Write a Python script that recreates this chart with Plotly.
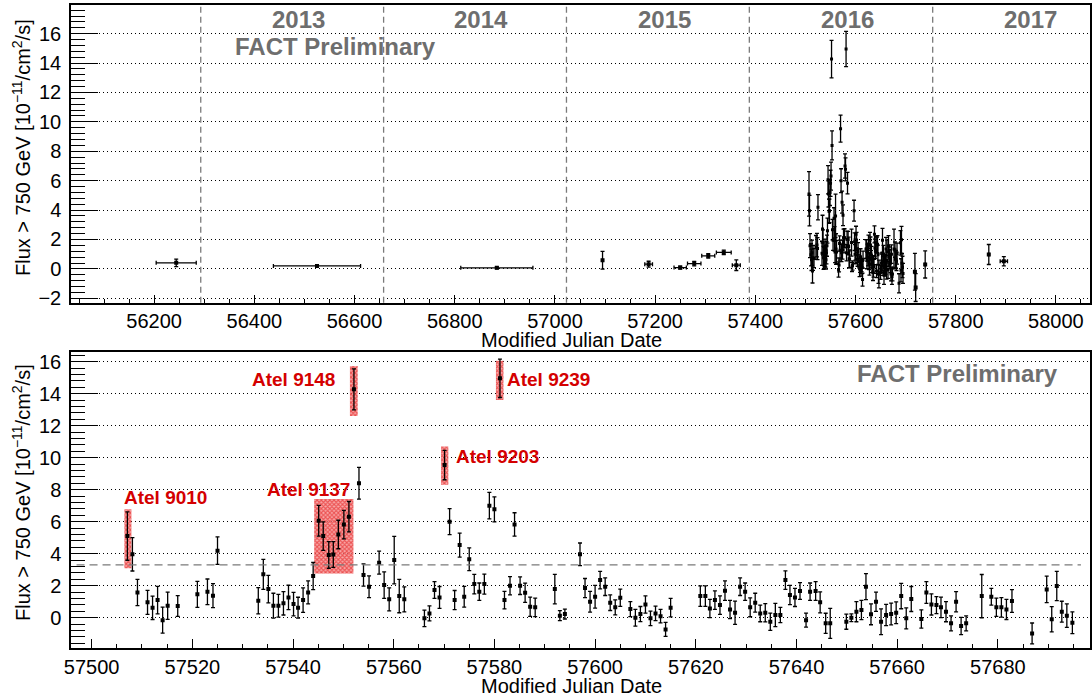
import plotly.graph_objects as go

# ---------------- data ----------------
# nightly 2016 light curve (MJD, flux [1e-11 /cm2/s], error)
night_mjd = [57507.1, 57508.1, 57509.1, 57511.1, 57512.1, 57513.1, 57514.1, 57515.1, 57517.1,
             57521.0, 57523.0, 57524.1, 57525.0, 57533.1, 57534.1, 57535.1, 57536.1, 57537.1,
             57538.1, 57539.1, 57540.1, 57541.0, 57542.0, 57543.0, 57544.0, 57545.1, 57546.0,
             57547.1, 57548.0, 57549.0, 57550.1, 57551.1, 57552.1, 57553.1, 57554.0, 57555.1,
             57557.1, 57558.1, 57559.1, 57560.1, 57561.1, 57562.1, 57566.1, 57567.1, 57568.1,
             57569.1, 57570.1, 57571.1, 57572.1, 57573.1, 57574.0, 57575.0, 57576.0, 57577.0,
             57578.0, 57579.0, 57580.0, 57581.1, 57582.0, 57583.1, 57584.0, 57585.1, 57586.1,
             57587.1, 57588.1, 57592.0, 57593.0, 57594.0, 57597.0, 57598.0, 57599.0, 57600.0,
             57601.0, 57602.0, 57603.0, 57604.0, 57605.0, 57607.0, 57608.0, 57609.0, 57610.0,
             57611.0, 57612.0, 57613.0, 57614.0, 57615.0, 57620.9, 57621.9, 57622.8, 57623.8,
             57624.8, 57625.8, 57626.8, 57627.8, 57628.8, 57629.8, 57630.8, 57631.8, 57632.8,
             57633.8, 57634.8, 57635.8, 57636.8, 57637.8, 57638.7, 57639.7, 57640.7, 57641.9,
             57642.7, 57643.8, 57644.7, 57645.8, 57646.7, 57649.9, 57650.9, 57651.9, 57652.9,
             57653.8, 57654.8, 57655.8, 57656.8, 57657.8, 57658.8, 57659.8, 57660.8, 57661.8,
             57662.8, 57664.8, 57665.8, 57666.8, 57667.8, 57668.7, 57669.7, 57670.7, 57671.7,
             57672.7, 57673.7, 57676.8, 57678.7, 57679.7, 57680.7, 57681.7, 57682.8, 57686.8,
             57689.7, 57690.7, 57691.7, 57692.7, 57693.7, 57694.8]
night_flux = [5.10, 3.96, 1.58, 0.96, 0.62, 1.10, -0.15, 0.75, 0.73,
              1.46, 1.62, 1.38, 4.19, 1.06, 2.71, 1.79, 0.75, 0.75,
              0.90, 1.27, 0.85, 0.63, 1.10, 1.58, 2.60, 6.06, 5.10,
              3.92, 3.95, 5.20, 5.82, 6.31, 14.27, 8.40, 2.67, 1.94,
              3.44, 2.04, 1.15, 3.60, 1.35, 1.15, -0.04, 0.27, 1.73,
              1.27, 9.54, 6.00, 1.10, 4.54, 1.31, 3.65, 2.10, 1.63,
              2.10, 7.00, 6.77, 14.96, 1.10, 2.00, 5.83, 2.00, 1.56,
              0.69, 0.65, 1.79, 0.13, 0.23, 3.96, 1.85, 1.00, 1.31,
              2.35, 1.94, 0.94, 0.65, 1.25, 0.54, 0.00, 0.23, 0.83,
              -0.04, 0.27, 0.10, -0.73, 0.63, 1.35, 1.35, 0.58, 1.10,
              0.79, 1.69, 0.52, 0.31, 1.94, 1.63, 0.65, 0.94, 0.27,
              0.31, -0.25, 0.17, 0.17, 2.35, 1.42, 1.27, 1.67, -0.15,
              1.63, 1.67, 0.96, -0.35, -0.35, -0.25, 0.00, 0.38, 0.48,
              1.94, 0.21, 1.00, -0.25, 0.17, 0.23, 0.31, 1.35, -0.04,
              1.17, -0.08, 1.58, 0.83, 0.79, 0.65, 0.38, -0.35, 1.00,
              -0.52, -0.35, 1.35, 1.31, 0.65, 0.65, 0.52, 1.04, -0.98,
              1.77, -0.10, 1.98, 0.38, 0.13, -0.31]
night_err = [1.51, 1.04, 0.82, 0.75, 0.73, 0.86, 0.81, 0.85, 0.65,
             0.81, 0.80, 0.75, 0.86, 0.82, 0.94, 0.86, 0.78, 0.71,
             0.73, 0.76, 0.73, 0.65, 0.76, 0.72, 0.85, 0.96, 0.89,
             0.83, 0.80, 0.89, 0.89, 0.95, 1.28, 0.99, 0.70, 0.68,
             0.72, 0.83, 0.72, 1.48, 1.04, 0.78, 0.52, 0.47, 0.52,
             0.68, 0.92, 0.81, 0.60, 0.75, 0.65, 0.71, 0.61, 0.54,
             0.63, 0.83, 0.78, 1.20, 0.55, 0.57, 0.73, 0.55, 0.60,
             0.60, 0.58, 0.92, 0.31, 0.31, 0.71, 0.60, 0.65, 0.71,
             0.55, 0.55, 0.49, 0.47, 0.54, 0.47, 0.52, 0.47, 0.54,
             0.45, 0.45, 0.42, 0.44, 0.58, 0.64, 0.64, 0.57, 0.58,
             0.58, 0.61, 0.57, 0.73, 0.55, 0.54, 0.59, 0.59, 0.52,
             0.57, 0.54, 0.73, 0.48, 0.58, 0.60, 0.57, 0.52, 0.44,
             0.54, 0.59, 0.66, 0.63, 0.94, 0.47, 0.24, 0.63, 0.60,
             0.81, 0.65, 0.60, 0.80, 0.66, 0.68, 0.68, 0.79, 0.66,
             0.78, 0.57, 0.68, 0.66, 0.53, 0.64, 0.63, 0.47, 0.63,
             0.54, 0.47, 1.35, 0.52, 0.57, 0.61, 0.63, 0.71, 0.65,
             0.83, 0.79, 0.91, 0.65, 0.73, 0.68]

# other seasons / binned points in the overview (MJD, half-width, flux, error)
bin_mjd = [56244, 56525, 56884, 57095, 57187, 57250, 57278, 57306, 57337, 57362,
           57718.5, 57720, 57739, 57866, 57896]
bin_xerr = [40, 87, 72, 0, 7.7, 12.3, 13.4, 13, 14.8, 8,
            0, 0, 0, 0, 7.3]
bin_flux = [0.41, 0.20, 0.07, 0.59, 0.32, 0.09, 0.36, 0.89, 1.12, 0.25,
            -0.20, -1.27, 0.30, 0.98, 0.52]
bin_err = [0.25, 0.08, 0.06, 0.60, 0.20, 0.10, 0.15, 0.15, 0.15, 0.36,
           1.25, 0.95, 0.92, 0.68, 0.32]

# years
year_names = ["2013", "2014", "2015", "2016", "2017"]
year_start_mjd = [56293, 56658, 57023, 57388, 57754]

# ATel alerts: time window and flux window
atel_names = ["Atel 9010", "Atel 9137", "Atel 9148", "Atel 9203", "Atel 9239"]
atel_t0 = [57506.5, 57544.2, 57551.3, 57569.4, 57580.3]
atel_t1 = [57507.9, 57552.0, 57552.85, 57570.85, 57581.8]
atel_f0 = [3.09, 2.77, 12.6, 8.3, 13.6]
atel_f1 = [6.78, 7.42, 15.73, 10.7, 16.06]

threshold = 3.3  # dashed reference level in the zoom panel

# ---------------- styling ----------------
FONT = "Liberation Sans, Arial, Helvetica, sans-serif"
RED = "#d40000"
GREY = "#6e6e6e"
W, H = 1092, 697
px_x = lambda p: p / W
px_y = lambda p: 1 - p / H

fig = go.Figure()

# ATel boxes (bottom panel)
for n, t0, t1, f0, f1 in zip(atel_names, atel_t0, atel_t1, atel_f0, atel_f1):
    fig.add_trace(go.Scatter(
        x=[t0, t1, t1, t0, t0], y=[f0, f0, f1, f1, f0],
        xaxis="x2", yaxis="y2", mode="lines", line=dict(width=0),
        fill="toself", fillcolor="rgba(245,140,140,0.75)",
        fillpattern=dict(shape="x", fgcolor="#e00000", size=3, solidity=0.6),
        hoverinfo="skip", showlegend=False))

err_style = dict(type="data", color="black", thickness=1.3, width=2)

# top: binned points
fig.add_trace(go.Scatter(
    x=bin_mjd, y=bin_flux, mode="markers", xaxis="x", yaxis="y",
    marker=dict(symbol="square", size=4, color="black"),
    error_y=dict(array=bin_err, **err_style),
    error_x=dict(array=bin_xerr, **err_style),
    showlegend=False))
# top: nightly points
fig.add_trace(go.Scatter(
    x=night_mjd, y=night_flux, mode="markers", xaxis="x", yaxis="y",
    marker=dict(symbol="square", size=3, color="black"),
    error_y=dict(array=night_err, **err_style),
    showlegend=False))
# bottom: nightly points
fig.add_trace(go.Scatter(
    x=night_mjd, y=night_flux, mode="markers", xaxis="x2", yaxis="y2",
    marker=dict(symbol="square", size=4, color="black"),
    error_y=dict(array=night_err, **err_style),
    showlegend=False))

shapes = []
for ys in year_start_mjd:
    shapes.append(dict(type="line", xref="x", yref="y domain", x0=ys, x1=ys, y0=0, y1=1,
                       line=dict(color="#7a7a7a", width=1.3, dash="6px,4px")))
shapes.append(dict(type="line", xref="x2", yref="y2", x0=57497, x1=57696.5,
                   y0=threshold, y1=threshold,
                   line=dict(color="#7a7a7a", width=1.3, dash="8px,5px")))

C = dict(xanchor="center", yanchor="middle", showarrow=False)
annotations = []
for name, ys in zip(year_names, year_start_mjd):
    annotations.append(dict(C, x=ys + 195, y=px_y(20), xref="x", yref="paper",
                            text="<b>%s</b>" % name,
                            font=dict(family=FONT, size=24, color=GREY)))
annotations.append(dict(C, x=px_x(335), y=px_y(47), xref="paper", yref="paper",
                        text="<b>FACT Preliminary</b>",
                        font=dict(family=FONT, size=24, color=GREY)))
annotations.append(dict(C, x=px_x(957), y=px_y(373), xref="paper", yref="paper",
                        text="<b>FACT Preliminary</b>",
                        font=dict(family=FONT, size=24, color=GREY)))
# ATel labels
atel_lab = [(57506.0, 7.48, "left"), (57551.7, 7.98, "right"), (57548.8, 14.86, "right"),
            (57572.0, 10.06, "left"), (57582.2, 14.86, "left")]
for n, (lx, ly, anc) in zip(atel_names, atel_lab):
    annotations.append(dict(x=lx, y=ly, xref="x2", yref="y2", text="<b>%s</b>" % n,
                            showarrow=False, xanchor=anc, yanchor="middle",
                            font=dict(family=FONT, size=19, color=RED)))
# axis titles
ytitle = "Flux > 750 GeV [10<sup>\u221211</sup>/cm<sup>2</sup>/s]"
for yc in (148, 493):
    annotations.append(dict(C, x=px_x(21), y=px_y(yc), xref="paper", yref="paper",
                            text=ytitle, textangle=-90,
                            font=dict(family=FONT, size=20, color="black")))
for yc in (340, 686):
    annotations.append(dict(C, x=px_x(571), y=px_y(yc), xref="paper", yref="paper",
                            text="Modified Julian Date",
                            font=dict(family=FONT, size=20, color="black")))

xdom = [px_x(71), px_x(1090)]
common = dict(showline=True, linecolor="black", linewidth=1.5, mirror=True,
              ticks="inside", tickcolor="black", tickwidth=1,
              tickfont=dict(family=FONT, size=20, color="black"),
              zeroline=False, automargin=False)
ycommon = dict(common, showgrid=True, gridcolor="black", gridwidth=1, griddash="1px,3px",
               tick0=0, dtick=2, ticklen=27, ticklabelstandoff=4,
               minor=dict(dtick=0.4, ticklen=14, ticks="inside", tickcolor="black",
                          tickwidth=1, showgrid=False))

fig.update_layout(
    width=W, height=H, margin=dict(l=0, r=0, t=0, b=0, autoexpand=False),
    paper_bgcolor="white", plot_bgcolor="white", showlegend=False,
    font=dict(family=FONT),
    xaxis=dict(common, domain=xdom, anchor="y", range=[56034, 58068],
               tick0=0, dtick=200, ticklen=8, showgrid=False, tickformat="d",
               minor=dict(dtick=50, ticklen=4, ticks="inside", tickcolor="black",
                          tickwidth=1, showgrid=False)),
    yaxis=dict(ycommon, domain=[px_y(302.7), px_y(5)], anchor="x", range=[-2.3, 17.95]),
    xaxis2=dict(common, domain=xdom, anchor="y2", range=[57495.9, 57698.3],
                tick0=0, dtick=20, ticklen=10, showgrid=False, tickformat="d",
                minor=dict(dtick=5, ticklen=5, ticks="inside", tickcolor="black",
                           tickwidth=1, showgrid=False)),
    yaxis2=dict(ycommon, domain=[px_y(648.3), px_y(351.7)], anchor="x2",
                range=[-1.91, 16.62]),
    shapes=shapes, annotations=annotations,
)

fig.write_html("out.html", config={"displayModeBar": False},
               post_script="document.body.style.margin='0';document.body.style.padding='0';")
